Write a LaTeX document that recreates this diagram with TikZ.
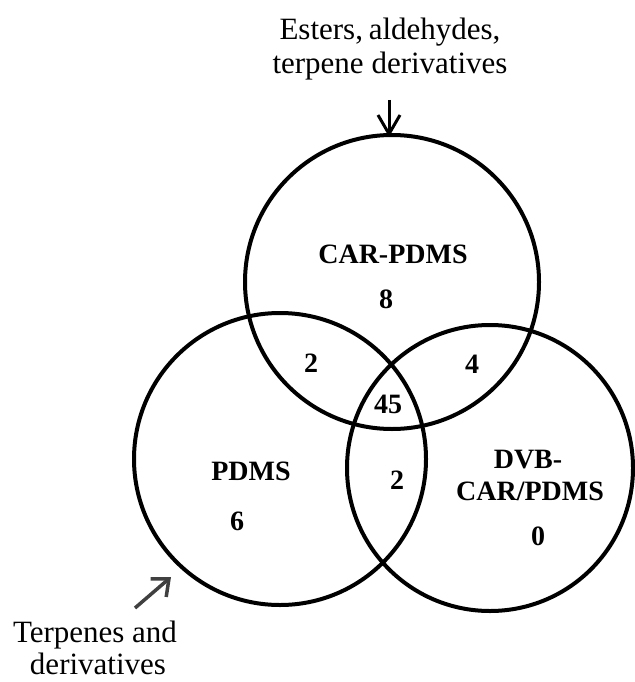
\documentclass[tikz,border=0pt]{standalone}
\usepackage{fontspec}
\setmainfont{Liberation Serif}
\usetikzlibrary{arrows.meta}
\definecolor{pointer}{HTML}{404040}
\begin{document}
\begin{tikzpicture}[x=1pt,y=-1pt,
  ring/.style={circle,draw=black,line width=4pt,inner sep=0pt,minimum size=#1},
  setlabel/.style={font=\fontsize{28}{30}\selectfont\bfseries,anchor=base,inner sep=0pt},
  note/.style={font=\fontsize{31}{34}\selectfont,anchor=base,inner sep=0pt,align=center},
  topptr/.style={line width=3pt,-{Straight Barb[length=19pt,width=22pt,line width=3pt]}},
  sideptr/.style={draw=pointer,line width=3.5pt,-{Straight Barb[length=14pt,width=24pt,line width=3.5pt]}}]
\useasboundingbox (0,0) rectangle (634,682);

% the three sets
\node[ring=294pt] (car)  at (392,282) {};
\node[ring=292pt] (pdms) at (280,459) {};
\node[ring=286pt] (dvb)  at (490,468) {};

% set names and counts
\node[setlabel] (carname) at (393,263) {CAR-PDMS};
\node[setlabel] (carn)    at (386,308) {8};
\node[setlabel] (cp)      at (311,372) {2};
\node[setlabel] (cd)      at (472,373) {4};
\node[setlabel] (all)     at (388,413) {45};
\node[setlabel] (pd)      at (397,489) {2};
\node[setlabel] (pdmsname) at (251,480) {PDMS};
\node[setlabel] (pdmsn)   at (237,530) {6};
\node[setlabel] (dvbname1) at (528,468) {DVB-};
\node[setlabel] (dvbname2) at (530,500) {CAR/PDMS};
\node[setlabel] (dvbn)    at (538,545) {0};

% annotations
\node[note] (topnote1) at (390,40) {Esters,\hspace{-2pt} aldehydes,};
\node[note] (topnote2) at (390,74) {terpene derivatives};
\node[note] (lownote1) at (95,642) {Terpenes and};
\node[note] (lownote2) at (98,674) {derivatives};

\coordinate (toptail) at (389,100);
\coordinate (toptip)  at (389,137);
\coordinate (lowtail) at (135,608);
\coordinate (lowtip)  at (171,577);
\draw[topptr] (toptail) -- (toptip);
\draw[sideptr] (lowtail) -- (lowtip);
\end{tikzpicture}
\end{document}
